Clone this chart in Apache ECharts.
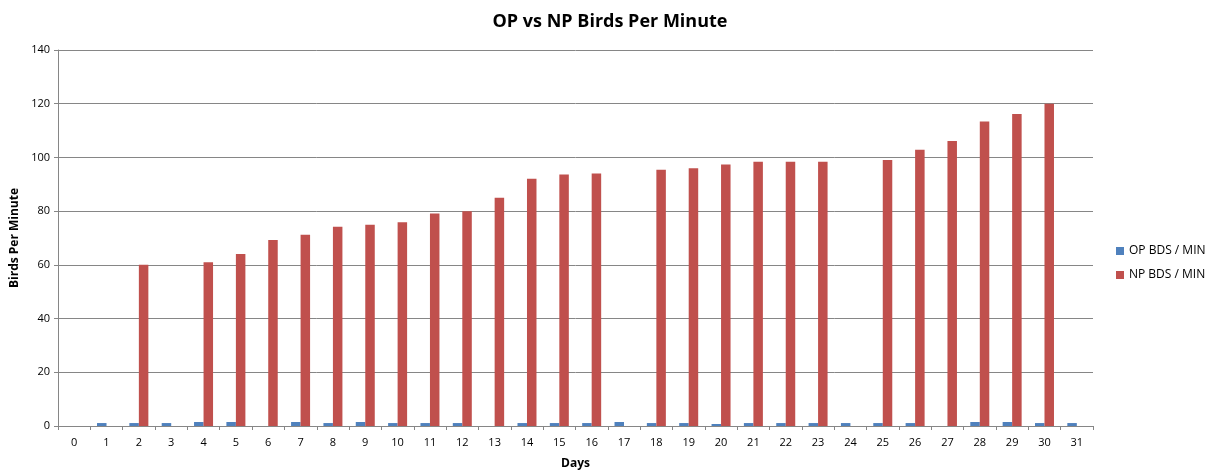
<!DOCTYPE html>
<html>
<head>
<meta charset="utf-8">
<script src="https://cdn.jsdelivr.net/npm/echarts@6/dist/echarts.min.js"></script>
<style>html,body{margin:0;padding:0;background:#fff;}#c{width:1220px;height:470px;}</style>
</head>
<body>
<div id="c"></div>
<script>
var days = ['0','1','2','3','4','5','6','7','8','9','10','11','12','13','14','15','16','17','18','19','20','21','22','23','24','25','26','27','28','29','30','31'];
var opBds = [0,1.1,1.1,1.1,1.5,1.5,0,1.5,1.1,1.5,1.1,1.1,1.1,0,1.1,1.1,1.1,1.5,1.1,1.1,0.75,1.1,1.1,1.1,1.1,1.1,1.1,0,1.5,1.5,1.1,1.1];
var npBds = [0,0,60,0,61,64,69.3,71.2,74.2,74.9,75.9,79.1,80,85,92.1,93.6,94,0,95.4,96,97.4,98.4,98.4,98.4,0,99,102.9,106.1,113.4,116.2,120,0];
var yTicks = {min:0, max:140, interval:20};

var font = '"Open Sans", "Liberation Sans", sans-serif';
var chart = echarts.init(document.getElementById('c'));
chart.setOption({
  animation:false,
  title:{text:'OP vs NP Birds Per Minute', left:605, textAlign:'center', top:8,
    textStyle:{fontFamily:font, fontSize:18, fontWeight:'bold', color:'#000'}},
  legend:{orient:'vertical', left:1111, top:240, itemWidth:8, itemHeight:8, itemGap:12,
    icon:'rect', textStyle:{fontFamily:font, fontSize:12, color:'#000'},
    data:['OP BDS / MIN','NP BDS / MIN']},
  grid:{left:58, right:127, top:50, bottom:44, containLabel:false, outerBoundsMode:'none'},
  xAxis:{type:'category', data:days, name:'Days', nameLocation:'middle', nameGap:32,
    nameTextStyle:{fontFamily:font, fontSize:12, fontWeight:'bold', color:'#000'},
    axisLine:{lineStyle:{color:'#868686', width:1}},
    axisTick:{show:true, alignWithLabel:false, length:4, lineStyle:{color:'#868686'}},
    axisLabel:{fontFamily:font, fontSize:11, color:'#000', margin:11, interval:0},
    splitLine:{show:false}},
  yAxis:{type:'value', min:yTicks.min, max:yTicks.max, interval:yTicks.interval,
    name:'Birds Per Minute', nameLocation:'middle', nameGap:36, nameRotate:90,
    nameTextStyle:{fontFamily:font, fontSize:12, fontWeight:'bold', color:'#000'},
    axisLine:{show:true, lineStyle:{color:'#868686', width:1}},
    axisTick:{show:true, length:4, lineStyle:{color:'#868686'}},
    axisLabel:{fontFamily:font, fontSize:11, color:'#000', margin:8},
    splitLine:{show:true, lineStyle:{color:'#868686', width:1}}},
  series:[
    {name:'OP BDS / MIN', type:'bar', data:opBds, barWidth:9.5, barGap:'0%',
      itemStyle:{color:'#4F81BD'}},
    {name:'NP BDS / MIN', type:'bar', data:npBds, barWidth:9.5, barGap:'0%',
      itemStyle:{color:'#C0504D'}}
  ]
});
</script>
</body>
</html>
